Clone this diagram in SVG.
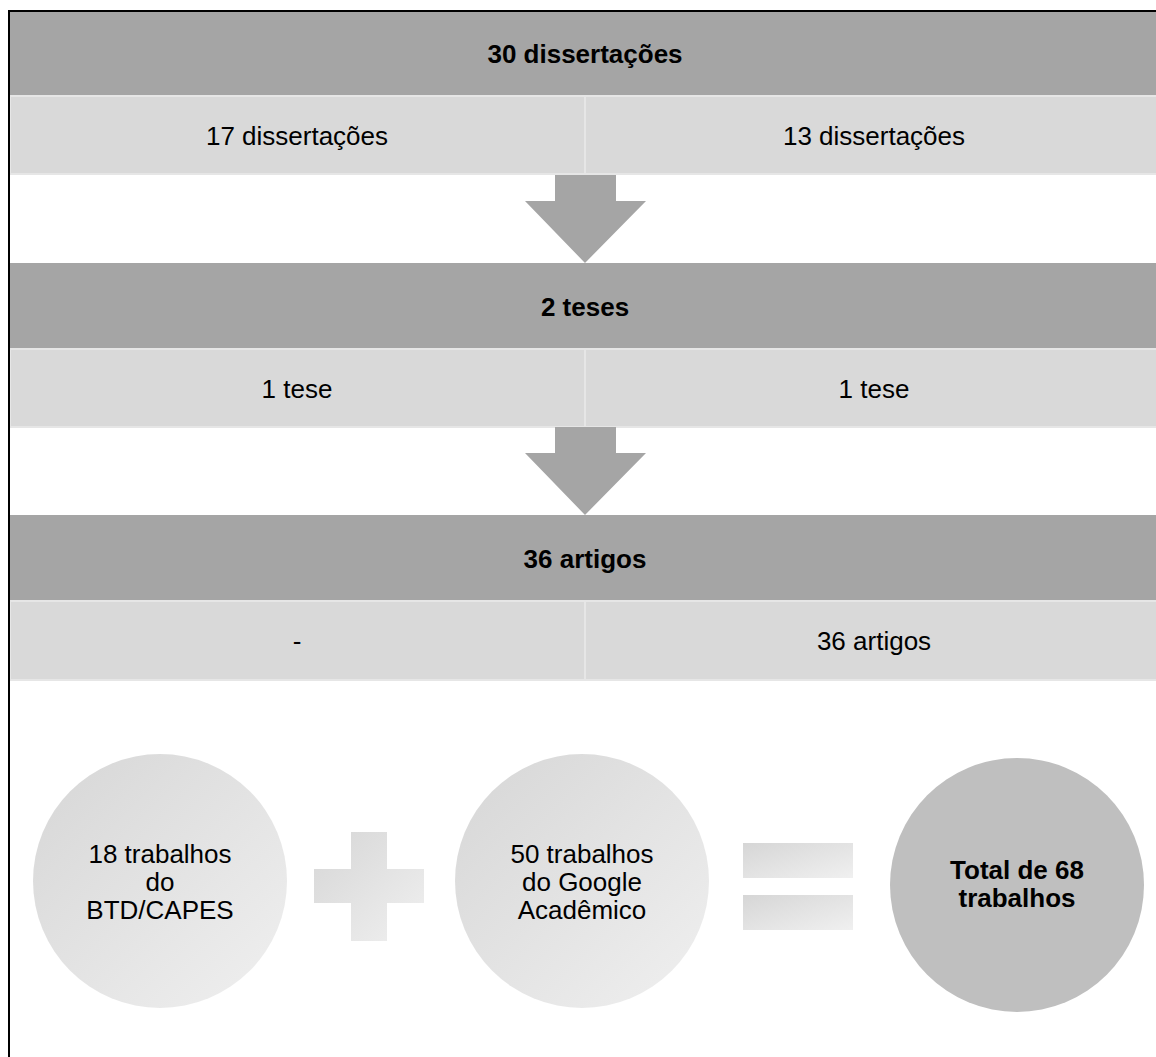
<svg xmlns="http://www.w3.org/2000/svg" width="1156" height="1057" viewBox="0 0 1156 1057">
<defs>
<style>
.dark{fill:#a5a5a5;}
.light{fill:#d9d9d9;stroke:#e6e6e6;stroke-width:2;}
.arrow{fill:#a5a5a5;}
.t{font-family:"Liberation Sans",Arial,sans-serif;font-size:26px;fill:#000;text-anchor:middle;}
.c{font-size:25px;}
.b{font-weight:bold;}
</style>
<linearGradient id="g" x1="0" y1="0" x2="1" y2="1">
<stop offset="0" stop-color="#d6d6d6"/>
<stop offset="1" stop-color="#f0f0f0"/>
</linearGradient>
</defs>
<rect x="0" y="0" width="1156" height="1057" fill="#fff"/>

<g id="band1">
<rect class="dark" x="10" y="12" width="1146" height="84"/>
<text class="t b" x="585" y="63">30 dissertações</text>
</g>
<g id="cell1a">
<rect class="light" x="10" y="96" width="575" height="78"/>
<text class="t" x="297" y="145">17 dissertações</text>
</g>
<g id="cell1b">
<rect class="light" x="585" y="96" width="580" height="78"/>
<text class="t" x="874" y="145">13 dissertações</text>
</g>

<g id="band2">
<rect class="dark" x="10" y="263" width="1146" height="86"/>
<text class="t b" x="585" y="316">2 teses</text>
</g>
<g id="cell2a">
<rect class="light" x="10" y="349" width="575" height="78"/>
<text class="t" x="297" y="398">1 tese</text>
</g>
<g id="cell2b">
<rect class="light" x="585" y="349" width="580" height="78"/>
<text class="t" x="874" y="398">1 tese</text>
</g>

<g id="band3">
<rect class="dark" x="10" y="515" width="1146" height="86"/>
<text class="t b" x="585" y="568">36 artigos</text>
</g>
<g id="cell3a">
<rect class="light" x="10" y="601" width="575" height="79"/>
<text class="t" x="297" y="650">-</text>
</g>
<g id="cell3b">
<rect class="light" x="585" y="601" width="580" height="79"/>
<text class="t" x="874" y="650">36 artigos</text>
</g>

<g id="circle1">
<circle cx="160" cy="881" r="127" fill="url(#g)"/>
<text class="t" x="160" y="863">18 trabalhos</text>
<text class="t" x="160" y="891">do</text>
<text class="t" x="160" y="919">BTD/CAPES</text>
</g>
<g id="plus">
<path d="M351 832H387V869H424V903H387V941H351V903H314V869H351Z" fill="url(#g)"/>
</g>
<g id="circle2">
<circle cx="582" cy="881" r="127" fill="url(#g)"/>
<text class="t" x="582" y="863">50 trabalhos</text>
<text class="t" x="582" y="891">do Google</text>
<text class="t" x="582" y="919">Acadêmico</text>
</g>
<g id="equals">
<rect x="743" y="843" width="110" height="35" fill="url(#g)"/>
<rect x="743" y="895" width="110" height="35" fill="url(#g)"/>
</g>
<g id="circle3">
<circle cx="1017" cy="885" r="127" fill="#bfbfbf"/>
<text class="t b" x="1017" y="879">Total de 68</text>
<text class="t b" x="1017" y="907">trabalhos</text>
</g>

<g id="connectors">
<path class="arrow" d="M555 175H616V201H646L585 263L525 201H555Z"/>
<path class="arrow" d="M555 427H616V453H646L585 515L525 453H555Z"/>
</g>

<g id="frame">
<path d="M9 1057V11H1156" fill="none" stroke="#000" stroke-width="2"/>
</g>
</svg>
